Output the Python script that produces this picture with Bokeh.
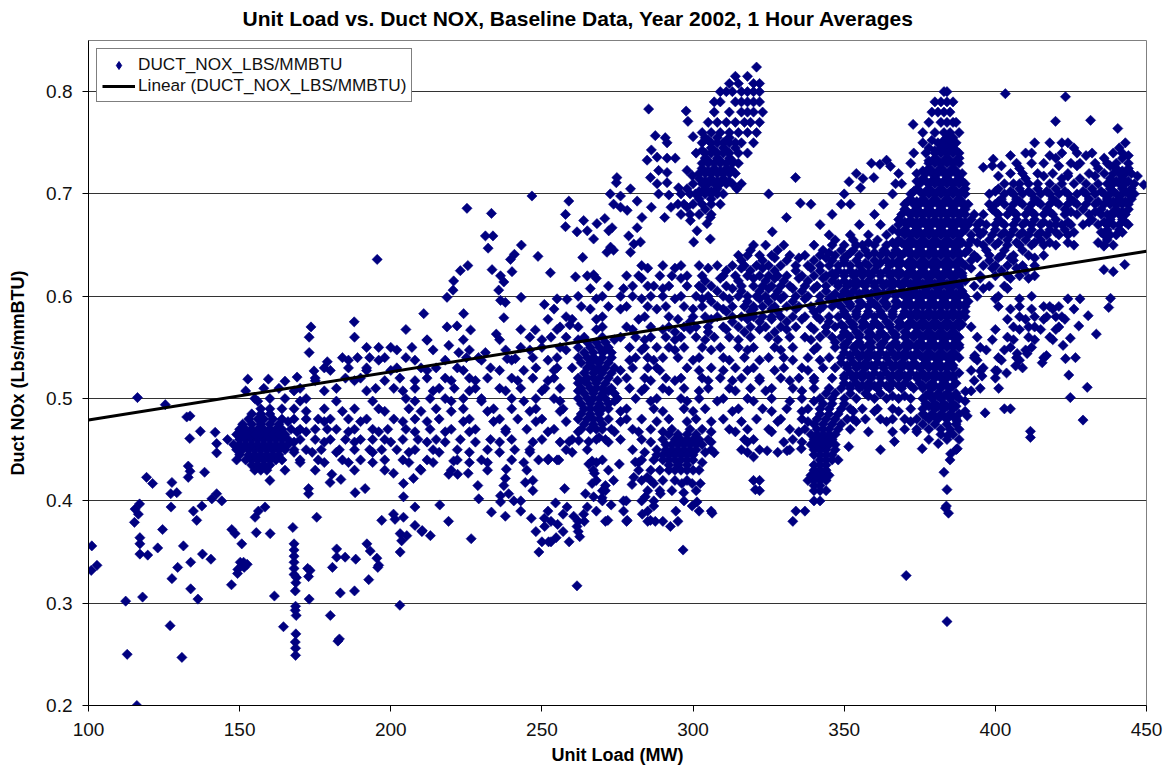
from bokeh.plotting import figure
from bokeh.models import ColumnDataSource, Legend, LegendItem, FixedTicker, Range1d, Title
from bokeh.embed import file_html
from bokeh.resources import INLINE
from math import pi

TITLE = "Unit Load vs. Duct NOX, Baseline Data, Year 2002, 1 Hour Averages"
X_LABEL = "Unit Load (MW)"
Y_LABEL = "Duct NOx (Lbs/mmBTU)"
SERIES = "DUCT_NOX_LBS/MMBTU"
TREND = "Linear (DUCT_NOX_LBS/MMBTU)"
x_ticks = [100, 150, 200, 250, 300, 350, 400, 450]
y_ticks = [0.2, 0.3, 0.4, 0.5, 0.6, 0.7, 0.8]
trend_load = [100, 450]
trend_nox = [0.479, 0.644]

# NOx level -> loads at about that level
main_rows = {
0.824:[321], 0.815:[314,318], 0.808:[312,315,320,322],
0.80:[309,311,313,316,318,320,322,383,384],
0.79:[307,309,314,316,318,320,322,380,382,384,386],
0.78:[307,312,316,318,320,323,379,381,383,385],
0.77:[305,308,311,314,317,319,322,378,382,384,386,387],
0.76:[303,306,309,312,315,318,321,376,380,383,385,388],
0.75:[303,306,308,310,312,314,316,320,376,381,383,385,387,413,418,422,424,443],
0.74:[301,304,306,308,310,312,315,318,373,377,380,382,384,386,388,410,412,422,427,432,439,442],
0.73:[303,305,307,309,311,313,315,359,372,378,380,382,384,386,388,407,412,416,425,428,433,437,440,444],
0.72:[302,304,306,308,310,312,314,354,368,374,377,379,381,383,385,387,389,405,409,414,419,424,431,436,439,441,443,445],
0.71:[300,303,305,307,309,311,313,316,367,369,375,378,380,382,384,386,388,390,403,406,408,411,414,418,422,426,430,434,437,439,441,443,446],
0.70:[296,299,302,304,306,308,310,325,350,366,372,376,378,380,382,384,386,388,390,398,403,406,409,412,415,418,421,424,427,430,433,436,438,440,442,444,446],
0.69:[295,297,300,303,306,309,339,349,352,363,370,373,375,377,379,381,383,385,387,389,391,398,400,403,406,409,412,415,418,421,424,427,430,433,436,438,440,442,444],
0.68:[296,299,302,306,346,360,369,372,374,376,378,380,382,384,386,388,390,393,396,401,404,407,410,413,416,419,423,427,431,435,437,439,441,443],
0.67:[342,355,362,368,371,373,375,377,379,381,383,385,387,389,391,394,397,400,403,406,409,412,415,418,420,422,425,429,434,437,439,441,444],
0.66:[345,352,358,364,370,372,374,376,378,380,382,384,386,388,392,395,399,402,405,408,411,414,417,421,424,436,438,440],
0.65:[320,324,330,340,346,350,354,356,360,364,367,370,372,374,376,378,380,382,384,386,388,391,396,400,404,408,412,416,420,426,436,439],
0.64:[315,318,322,326,332,337,342,347,351,355,358,362,366,369,372,374,376,378,380,382,384,386,388,393,398,402,406,411,416],
0.63:[283,290,296,302,308,313,317,321,325,329,334,338,342,345,348,352,355,358,361,365,368,371,373,375,377,379,381,383,385,387,390,396,400,404,409,413],
0.62:[265,278,282,289,293,298,303,310,314,318,322,325,328,331,336,340,344,347,350,353,356,359,362,365,368,371,373,375,377,379,381,383,385,387,389,395,400,404,408,413],
0.61:[272,280,285,287,292,298,302,306,311,316,320,323,326,329,332,337,341,344,348,351,354,357,360,363,366,369,372,374,376,378,380,382,384,386,388,393,398,403],
0.60:[262,270,276,280,286,290,296,301,305,310,315,318,321,324,327,330,334,338,342,346,349,352,355,358,361,364,367,370,372,374,376,378,380,382,384,386,388,390,394,401,412],
0.59:[263,272,278,285,291,297,303,308,313,317,320,323,327,331,335,339,343,346,349,352,355,358,361,364,367,370,372,374,376,378,380,382,384,386,388,390,401,408,416,418,421],
0.58:[258,270,284,292,300,304,308,313,316,320,323,326,329,333,337,341,345,348,351,354,357,360,363,366,369,372,374,376,378,380,382,384,386,388,390,408,413,417,420,422],
0.57:[256,262,270,278,286,292,297,301,305,310,315,319,324,329,334,339,344,347,350,353,356,359,362,365,368,371,374,376,378,380,382,384,386,388,392,406,411,413,421],
0.56:[173,188,246,253,258,264,270,276,281,286,291,296,301,307,312,319,325,332,337,342,346,349,352,355,358,361,364,367,370,373,376,378,380,382,384,386,388,394,404,411,418],
0.55:[192,196,200,207,243,250,256,262,266,269,272,279,284,288,292,297,303,309,315,320,327,333,341,347,350,353,356,359,362,365,368,371,374,376,378,380,382,384,386,388,395,405,412],
0.54:[184,189,193,198,205,225,229,247,255,262,265,267,270,273,281,285,290,295,302,310,317,325,330,338,345,349,352,355,358,361,364,367,370,373,376,378,380,382,384,386,388,393,401,407,416],
0.53:[178,186,192,202,210,215,222,233,248,255,260,265,267,269,271,274,280,285,288,298,306,314,320,330,336,343,347,351,354,357,360,363,366,369,372,375,378,380,382,384,386,396,409],
0.52:[175,185,190,203,212,218,226,232,240,247,254,262,265,267,269,272,278,284,291,296,303,309,316,322,329,335,340,346,350,353,356,359,362,365,368,371,374,377,380,382,384,386,400],
0.51:[158,163,170,182,195,201,208,216,221,228,236,243,251,256,263,266,268,270,273,279,284,290,297,305,312,319,326,333,340,345,349,352,355,358,361,365,369,373,376,379,382,385,395],
0.50:[155,160,165,172,205,213,218,224,230,240,248,254,262,265,267,269,271,275,281,288,296,302,310,318,326,336,342,346,350,354,360,364,368,372,376,379,382,385,388],
0.49:[157,160,164,168,178,188,196,206,215,224,234,240,248,257,264,266,268,270,272,278,287,297,304,315,323,331,338,342,345,349,352,356,361,366,372,376,380,383,386,403,405],
0.48:[153,156,158,161,164,168,172,176,180,186,192,201,208,216,226,236,242,250,262,265,267,269,272,278,283,292,301,310,321,329,336,341,344,347,351,353,357,362,366,370,374,378,381,384,387],
0.47:[150,152,154,156,158,160,162,164,167,170,175,179,182,188,194,199,205,213,220,228,238,245,254,263,266,268,270,273,280,286,293,299,303,312,318,325,332,337,341,343,345,348,352,370,374,378,382,385,388],
0.46:[146,150,152,154,156,158,160,162,164,166,170,175,180,185,190,194,198,204,209,215,223,233,240,250,260,268,271,276,283,290,294,296,298,300,302,305,317,320,333,340,342,344,346,378,384,388],
0.45:[149,151,153,155,157,159,161,163,165,168,172,177,183,188,193,197,202,208,214,222,232,241,246,258,265,280,288,291,293,295,297,299,301,306,316,322,332,340,342,344,347,387],
0.44:[149,152,154,156,158,160,162,164,170,176,184,190,198,204,212,222,230,240,252,255,270,283,287,290,292,294,296,298,300,342,344,346,348,385],
0.43:[155,157,159,165,175,188,198,210,220,232,245,267,272,282,286,289,292,294,296,298,300,302,340,342,344],
0.42:[160,247,268,283,286,290,294,298,320,322,338,340,342,344],
0.41:[247,270,285,289,293,301,322,340,342,344],
0.40:[243,270,277,283,287,297,340,342],
0.39:[243,252,268,277,285,302,306,334,337],
0.38:[253,262,264,271,278,285,290,295,333],
0.37:[248,257,262], 0.36:[250,253,259], 0.35:[249],
}

# Loads in the densely overlapped clouds, read between the levels above
dense_rows = {
0.755:[304,308,312,384,386],
0.745:[306,310,314,378,382,384,386,426,441],
0.735:[304,308,312,380,384,388,420,436,442],
0.725:[303,307,311,378,382,386,408,434,440,444],
0.715:[302,306,310,376,380,384,388,410,422,428,438,442],
0.705:[298,304,308,374,378,382,386,390,401,408,414,420,432,438,442,445],
0.695:[302,306,372,376,380,384,388,402,407,413,419,425,431,437,441,445],
0.685:[304,370,374,378,382,386,390,399,405,411,417,423,429,435,440,444],
0.675:[368,372,376,380,384,388,392,401,407,413,420,432,438,442],
0.665:[366,370,374,378,382,386,390,394,400,406,412,418,423,437,441],
0.655:[347,353,361,368,372,376,380,384,388,392,398,404,410,415,437],
0.645:[319,328,343,349,353,357,363,367,371,375,379,383,387,391,397,403,409],
0.635:[316,323,331,340,346,350,354,360,364,368,372,376,380,384,388,392,398,406],
0.625:[311,319,327,334,342,348,352,356,360,364,368,372,376,380,384,388,402,410],
0.615:[304,315,324,330,338,346,350,354,358,362,366,370,374,378,382,386,390],
0.605:[308,316,322,328,336,344,350,353,357,361,365,369,373,377,381,385,389],
0.595:[306,318,325,333,342,347,351,355,359,363,367,371,375,379,383,387,391],
0.585:[311,319,328,340,350,354,358,362,366,370,374,378,382,386,390],
0.575:[299,313,322,331,345,352,356,360,364,368,372,376,380,384,388],
0.565:[294,305,317,327,344,350,354,358,362,366,370,374,378,382,386],
0.555:[265,268,271,347,351,355,359,363,367,371,375,379,383,387],
0.545:[264,267,270,273,350,354,358,362,366,370,374,378,382,386],
0.535:[263,266,269,272,349,353,357,361,365,369,373,377,381,385],
0.525:[264,267,270,273,352,356,360,364,368,372,376,380,384,388],
0.515:[262,265,268,271,350,354,358,362,366,370,375,379,383,387],
0.505:[264,267,270,274,344,347,352,357,362,378,381,384,387],
0.495:[263,266,269,272,343,346,350,377,380,383,386],
0.485:[154,157,160,263,266,269,342,345,348,376,379,382,385,388],
0.475:[151,154,157,160,163,264,267,270,340,343,346,349,376,380,384,387],
0.465:[149,151,153,155,157,159,161,163,165,292,295,298,301,339,341,343,345,347,382,386],
0.455:[148,150,152,154,156,158,160,162,164,166,291,293,295,297,299,301,303,339,341,343,345,347],
0.445:[150,153,155,157,159,161,163,288,290,292,294,296,298,300,340,342,344,346],
0.435:[154,156,158,160,292,295,298,340,342,344],
0.425:[339,341,343,345], 0.415:[340,342],
}

# Loads at in-between levels across the scattered middle band and the right band
band_rows = {
0.7375:[405,418,430,444], 0.7275:[399,402,421,427,438], 0.7175:[401,416,424,433,447],
0.7025:[400,405,411,417,423,429,435,443], 0.6925:[401,408,414,420,426,434,443], 0.6825:[400,406,412,418,425,433,442],
0.6725:[395,402,410,416,424,431,436,443], 0.6625:[396,403,409,415,420,426,435,442], 0.6525:[394,401,407,413,418,424,434],
0.6375:[327,335,344,350,394,401,405,413], 0.6275:[285,294,305,316,323,339,392,399,407],
0.6175:[268,283,296,309,320,327,335,343,395,405,411], 0.6075:[266,277,290,303,313,325,333,340,396,404],
0.5975:[255,268,283,294,303,312,322,329,337,345,400,408,424,428], 0.5875:[254,266,276,288,300,310,320,326,334,342,405,412,419,426],
0.5775:[252,260,268,282,295,306,318,326,336,342,404,410,416,423], 0.5675:[205,243,255,268,280,290,299,311,322,331,340,400,408,415,420],
0.5575:[212,224,236,250,262,274,284,294,304,315,328,339,399,406,413,419], 0.5475:[202,214,226,238,246,258,271,283,294,306,318,329,340,397,403,410],
0.5375:[186,196,208,218,230,240,252,268,279,287,300,312,322,333,342,394,402,408],
0.5275:[180,192,200,212,224,236,244,254,268,276,289,302,310,318,327,338,392,400],
0.5175:[175,188,198,208,220,228,242,252,264,275,286,294,305,313,322,332,340,393],
0.5075:[152,168,178,192,204,214,226,238,250,262,272,283,292,302,314,324,336,392],
0.4975:[156,170,182,194,208,220,230,244,256,274,286,298,308,320,332,340,390],
0.4875:[172,184,198,210,220,232,246,256,276,290,300,313,326,336,353,360,368,390],
0.4775:[166,178,190,204,212,224,234,248,258,276,288,298,306,316,328,338,354,364,372],
0.4675:[169,172,186,196,208,218,226,238,252,262,274,282,290,306,314,326,335,358,366,374],
0.4575:[168,178,188,200,212,218,228,236,247,256,272,286,306,318,330,336],
0.4475:[168,174,182,194,206,216,226,236,246,260,284,304,318,328],
0.4375:[170,178,186,194,206,214,226,232,244,268,282,303],
}

# Solid parts of the big cloud at 350-390 MW, the upper plume and the right band
core_rows = {
0.7525:[305,311,379,383,385], 0.7425:[303,307,311,380,383,385,387], 0.7325:[305,309,313,378,381,383,385,387],
0.7225:[305,309,376,379,381,383,385,387,442], 0.7125:[304,308,312,374,377,379,381,383,385,387,389,440,444],
0.7025:[302,306,373,375,377,379,381,383,385,387,389,439],
0.6925:[371,374,377,379,381,383,385,387,389,439,441], 0.6825:[371,373,375,377,379,381,383,385,387,389,439],
0.6725:[370,372,374,376,378,380,382,384,386,388,390], 0.6625:[368,371,373,375,377,379,381,383,385,387,389],
0.6525:[358,366,369,371,373,375,377,379,381,383,385,387,389],
0.6425:[345,352,360,364,368,370,372,374,376,378,380,382,384,386,388,390],
0.6325:[350,357,362,366,369,371,373,375,377,379,381,383,385,387,389],
0.6225:[346,350,354,358,362,366,369,371,373,375,377,379,381,383,385,387,389],
0.6125:[348,352,356,360,364,368,370,372,374,376,378,380,382,384,386,388],
0.6025:[347,351,355,359,363,367,369,371,373,375,377,379,381,383,385,387,389],
0.5925:[348,352,356,360,364,368,370,372,374,376,378,380,382,384,386,388,390],
0.5825:[350,354,358,362,366,370,372,374,376,378,380,382,384,386,388],
0.5725:[349,353,357,361,365,369,371,373,375,377,379,381,383,385,387,389],
0.5625:[351,355,359,363,367,371,373,375,377,379,381,383,385,387],
0.5525:[350,354,358,362,366,370,372,374,376,378,380,382,384,386,388],
0.5425:[352,356,360,364,368,372,375,377,379,381,383,385,387],
0.5325:[351,355,359,363,367,371,374,376,378,380,382,384,386],
0.5225:[350,354,358,362,366,370,374,376,378,380,382,384,386],
0.5125:[352,356,360,364,368,372,376,378,380,382,384,386],
0.5025:[358,366,370,377,379,381,383,385,387], 0.4925:[378,381,384,387], 0.4825:[377,380,383,386],
}

# Single marks read one by one: left-hand scatter
left_load = [195.5,173.6,187.9,173,179,174.6,152.7,159.5,165,169,116.2,125.4,132.5,133.6,137,141.9,133.5,142.4,142.4,133,133.6,133,138.4,119.2,121.2,127.6,129.2,127.2,142.4,140.8,144.1,116.9,115.4,116.5,115.2,127.3,134.7,137.5,135.8,124.5,117,117,131.4,122.9,117,119.6,137.7,140.5,133.8,129.5,101.1,102.8,100.9,127.6,147.4,148.5,150.7,155.5,160.1,167.6,156.2,158.4,155.1,175.5,150.2,151.3,149.3,168,168,168,168,168,168,173.3,182.1,182.1,184.9,180.7,188.4,192.1,193.2,195.4,195.7,203.1,197,200.9,204.2,201.4,208,204.2,208,210.3,203.1,205.3,203.6,191.5,188.2,204.2,207.5,209.7,200.9,183.5,179.9,172.8,172.8,180.5]
left_nox = [.636,.570,.575,.545,.536,.527,.519,.519,.517,.521,.501,.494,.482,.483,.468,.467,.461,.456,.447,.434,.429,.423,.428,.423,.417,.418,.408,.407,.407,.402,.400,.397,.392,.387,.379,.394,.390,.395,.381,.372,.364,.358,.356,.354,.348,.347,.348,.343,.340,.335,.356,.337,.332,.324,.372,.368,.358,.369,.368,.374,.390,.394,.384,.384,.340,.340,.329,.358,.352,.346,.340,.334,.328,.332,.353,.345,.345,.335,.343,.358,.351,.344,.335,.350,.381,.387,.384,.382,.394,.404,.376,.370,.368,.366,.361,.412,.408,.417,.422,.431,.427,.421,.418,.412,.407,.426]

# Lower-left marks below 0.33
low_load = [112.3,117.9,127,130.9,112.8,116,133.8,136.2,147.3,149.4,151.5,152.5,161.5,164.5,168.4,168.6,168.8,168.5,168.4,168.7,168.6,168.4,168.5,168.5,172.5,172.8,173,180,182.5,183,183.3,188,192.7,196,203]
low_nox = [.302,.306,.278,.247,.250,.200,.314,.304,.318,.333,.335,.338,.307,.277,.312,.320,.325,.297,.293,.288,.270,.262,.256,.249,.334,.326,.304,.288,.263,.265,.310,.312,.323,.337,.298]

# Single marks read one by one: upper-middle cluster
upper_load = [285.3,297.7,298.3,300,287.5,290.8,291.4,286.2,291.4,294.1,284.8,288.1,298,299.7,285.9,288.6,291.4,288.1,291.4,274.8,274.6,279.3,272.6,276,314.5,312.6,288.6,292,295.2,300.8,246.7,258.9,225.2,233.3,257.8,257.8,231.3,233.8,232.2,243.2,240.9,239.6,248.7,263.5,252.8,261.1,267.1,225.5,223,220.8,220.6,218.6,240.1,233.5,236.3,237.4,235.7,236.3,237.9,243.1,250.8,258.3,210.9,224.1,237.4,218.6,221.9,226.4,234.9,247.8,259.2,212,219.2,222.5,231.3,238.5,241.2,263.8,265,261.6,267.1,268.2,270.8,273.2,272.1,278.7,280.4,279.3,282.6,272.7,271.5,273.7,281.5,283.1,281.5,276,273.7,278.2,286.2,290.6,292.7,298,299.1,301.3,300.2,305.7,304.6,305.7]
upper_nox = [.783,.781,.771,.756,.757,.755,.750,.743,.735,.735,.733,.736,.723,.718,.716,.723,.721,.710,.711,.716,.711,.705,.700,.698,.705,.724,.700,.699,.706,.700,.698,.693,.686,.681,.680,.668,.659,.659,.647,.650,.641,.636,.639,.638,.623,.619,.621,.630,.625,.615,.606,.599,.624,.626,.620,.614,.606,.596,.594,.599,.592,.597,.583,.583,.579,.570,.571,.567,.563,.567,.572,.557,.552,.545,.545,.539,.539,.674,.664,.663,.656,.671,.676,.667,.664,.659,.651,.643,.653,.648,.643,.645,.667,.677,.693,.687,.690,.684,.687,.677,.687,.687,.674,.664,.653,.656,.671,.677]

# Single marks read one by one: lower-middle scatter
lower_load = [248.9,252.2,255.6,275.6,280.9,266.6,265.5,238.2,237.9,237.4,244.5,228.8,229.1,225.6,219.2,222.1,220.8,216.2,219.1,210.4,213.1,226.6,233.3,237.9,236.3,236.3,239,240.7,246.5,250.8,250.9,255.2,252.2,254.7,261.6,262.5,254.5,258.3,257,260.5,263.8,265,264.4,267.1,269.9,257.5,267.4,266.6,273.7,271,271,280.4,279.8,272.9,277.9,271.8,278.2,283.2,285.9,287.5,292.5,294.3,287,284.2,289.2,284.8,287,296.9,296.3,302.4,299.7,301.3,299.7,306.3,320.6,320,307,296.7,261.6,259,262.2,265.5,268.9]
lower_nox = [.440,.441,.440,.436,.438,.439,.436,.431,.422,.415,.418,.415,.402,.427,.426,.426,.439,.396,.380,.371,.366,.363,.389,.385,.405,.399,.407,.400,.383,.383,.375,.377,.360,.364,.375,.365,.398,.394,.387,.385,.387,.394,.407,.404,.403,.412,.427,.417,.420,.415,.410,.423,.416,.396,.400,.381,.381,.387,.381,.380,.375,.390,.395,.404,.407,.423,.417,.408,.417,.417,.417,.399,.395,.388,.411,.443,.447,.352,.317,.458,.459,.458,.462]

# Single marks read one by one: right-hand scatter
right_load = [403.3,423.2,431.5,419.9,440.5,399.3,396,333.9,335.5,330.9,326.2,351.6,355.4,356.2,359.8,361.8,364,365.3,372.8,449.1,435.9,442.8,435.9,439,438.1,437.5,430.7,433.4,427.6,424.8,422.4,423.2,426.5,424.3,430.4,424.8,429,411.6,411.6,401.1,396.6,390.7,390.1,395.1,395.6,400.6,403.7,393.2,406.7,415.5,416.9,410.5,407.2,375.8,362,351.5,366.6,381.1,387.4,385.2,384.3,387.4,324.5,331.1,335.8,384,370.5,383,384,383.5,384.5,383.8]
right_nox = [.798,.795,.772,.771,.764,.734,.726,.716,.691,.677,.663,.712,.706,.715,.716,.729,.733,.727,.768,.709,.649,.631,.626,.624,.598,.589,.581,.563,.571,.559,.552,.539,.540,.523,.511,.501,.479,.468,.462,.510,.486,.483,.507,.527,.522,.527,.525,.542,.532,.535,.542,.544,.544,.451,.450,.453,.458,.456,.451,.446,.464,.478,.449,.449,.451,.282,.327,.428,.411,.393,.388,.395]

load, nox = [], []
for rows in (main_rows, dense_rows, band_rows, core_rows):
    for level, loads in rows.items():
        for v in loads:
            load.append(v)
            nox.append(level)
load += left_load + low_load + upper_load + lower_load + right_load
nox += left_nox + low_nox + upper_nox + lower_nox + right_nox

p = figure(width=1170, height=771, output_backend="svg", toolbar_location=None,
           x_range=Range1d(100, 450), y_range=Range1d(0.2, 0.85),
           min_border_left=88, min_border_right=24, min_border_top=40, min_border_bottom=66,
           frame_width=1058, frame_height=665, tools="",
           x_axis_label=X_LABEL, y_axis_label=Y_LABEL)
FONT = "Liberation Sans"
p.title.text = TITLE
p.title.align = "left"
p.title.offset = 154
p.title.text_font = FONT
p.title.text_font_size = "21px"
p.title.text_font_style = "bold"
p.title.text_color = "black"
p.title.standoff = 0
p.add_layout(Title(text=" ", text_font_size="8px", standoff=0), "above")
p.background_fill_color = "white"
p.outline_line_color = "#808080"
p.outline_line_width = 1
p.xgrid.visible = False
p.ygrid.ticker = FixedTicker(ticks=y_ticks)
p.ygrid.grid_line_color = "#333333"
p.ygrid.grid_line_width = 1
for ax, t in ((p.xaxis[0], x_ticks), (p.yaxis[0], y_ticks)):
    ax.ticker = FixedTicker(ticks=t)
    ax.major_label_text_font = FONT
    ax.major_label_text_font_size = "19px"
    ax.major_label_text_color = "#111111"
    ax.axis_label_text_font = FONT
    ax.axis_label_text_font_size = "18px"
    ax.axis_label_text_font_style = "bold"
    ax.axis_label_text_color = "black"
    ax.axis_line_color = "black"
    ax.axis_line_width = 1
    ax.major_tick_line_color = "black"
    ax.major_tick_in = 0
    ax.major_tick_out = 6
    ax.minor_tick_line_color = None
p.xaxis[0].major_label_standoff = 11
p.yaxis[0].major_label_standoff = 10
p.xaxis[0].axis_label_standoff = 6
p.yaxis[0].axis_label_standoff = 15

src = ColumnDataSource(dict(load=load, nox=nox))
r1 = p.scatter("load", "nox", source=src, marker="square", angle=pi / 4, size=7.2,
               fill_color="#000080", line_color="#000080", line_width=0.6)
r2 = p.line(trend_load, trend_nox, line_color="black", line_width=3)
nan = float("nan")
key = p.scatter([nan], [nan], marker="diamond", size=15, fill_color="#000080", line_color="#000080")

legend = Legend(items=[LegendItem(label=SERIES, renderers=[key]), LegendItem(label=TREND, renderers=[r2])],
                location=(8, 603), orientation="vertical", background_fill_color="white", background_fill_alpha=1,
                border_line_color="black", border_line_width=1, label_text_font=FONT,
                label_text_font_size="17.2px", label_text_color="#111111", label_text_line_height=0.9,
                glyph_width=33, glyph_height=20,
                label_height=20, label_standoff=3, padding=5, spacing=0, margin=0)
p.add_layout(legend)

open("out.html", "w").write(file_html(p, INLINE))
